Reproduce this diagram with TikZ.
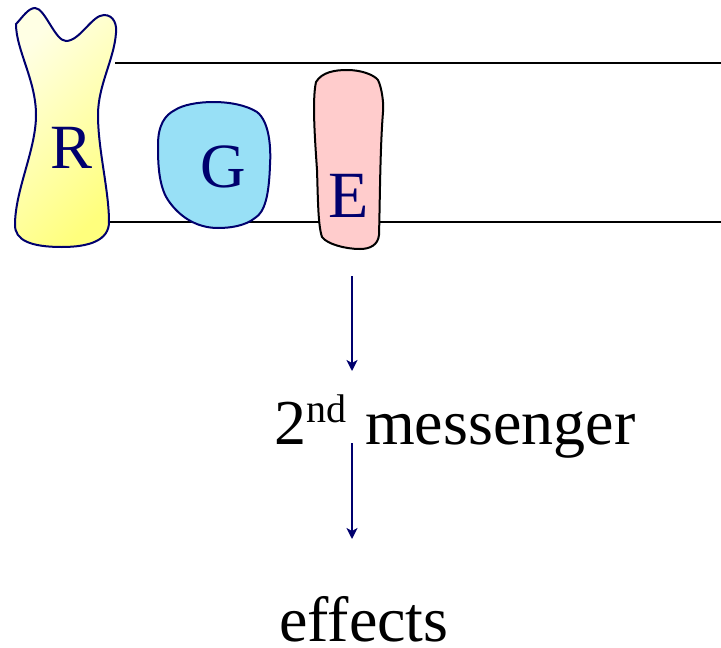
\documentclass[tikz,border=0pt]{standalone}
\usepackage{fontspec}
\setmainfont{Liberation Serif}[Ligatures=NoCommon]
\usetikzlibrary{arrows.meta}
\definecolor{navy}{RGB}{0,0,110}
\definecolor{gblue}{RGB}{152,224,246}
\definecolor{epink}{RGB}{255,204,204}
\tikzset{
  membrane/.style={draw=black,line width=1.8pt},
  prot/.style={line width=2pt},
  biglabel/.style={inner sep=0pt,text=navy,font=\fontsize{63}{70}\selectfont},
  plaintext/.style={inner sep=0pt,text=black,font=\fontsize{64}{72}\selectfont},
  flow/.style={draw=navy,line width=1.8pt,-{Stealth[length=11pt,width=11pt,inset=3pt]}}
}
\begin{document}
\begin{tikzpicture}[x=1pt,y=-1pt]
\useasboundingbox (0,0) rectangle (721,648);
% membrane lines
\coordinate (u1) at (115,63); \coordinate (u2) at (721,63);
\coordinate (l1) at (108,222); \coordinate (l2) at (721,222);
\draw[membrane] (u1) -- (u2);
\draw[membrane] (l1) -- (l2);
% R
\path[prot,draw=navy,top color={rgb,255:red,255;green,255;blue,228},bottom color={rgb,255:red,255;green,255;blue,125},shading angle=45]
 (16,24) .. controls (22,18) and (28,8) .. (35,8)
 .. controls (45,8) and (55,41) .. (66,41)
 .. controls (80,41) and (92,15) .. (104,15)
 .. controls (114,15) and (117,25) .. (116,33)
 .. controls (114,60) and (98,85) .. (98,115)
 .. controls (98,150) and (109,190) .. (109,222)
 .. controls (109,240) and (90,247) .. (62,247)
 .. controls (30,247) and (15,240) .. (15,225)
 .. controls (15,190) and (36,150) .. (36,115)
 .. controls (36,80) and (16,50) .. (16,24) -- cycle;
% G
\path[prot,draw=navy,fill=gblue]
 (175,110) .. controls (190,100) and (235,98) .. (257,112)
 .. controls (270,122) and (271,150) .. (270,165)
 .. controls (269,195) and (265,212) .. (255,218)
 .. controls (245,226) and (230,228) .. (218,228)
 .. controls (195,228) and (178,215) .. (168,200)
 .. controls (158,185) and (158,160) .. (158,145)
 .. controls (158,125) and (165,115) .. (175,110) -- cycle;
% E
\path[prot,draw=black,fill=epink]
 (316,82) .. controls (322,72) and (335,70) .. (347,70)
 .. controls (362,70) and (374,75) .. (378,80)
 .. controls (382,88) and (384,105) .. (383,112)
 .. controls (380,150) and (380,200) .. (379,235)
 .. controls (378,245) and (370,249) .. (360,249)
 .. controls (345,249) and (327,244) .. (322,237)
 .. controls (318,225) and (318,200) .. (317,170)
 .. controls (315,140) and (312,100) .. (316,82) -- cycle;
\node[biglabel,anchor=base] (R) at (72,168) {R};
\node[biglabel,anchor=base] (G) at (223,187) {G};
\node[biglabel,anchor=base,font=\fontsize{66}{72}\selectfont] (E) at (349,217) {E};
\node[plaintext,anchor=base west] (msg) at (274,444) {2\raisebox{22pt}{\fontsize{40}{42}\selectfont nd}\hspace{3pt} messenger};
\node[plaintext,anchor=base west] (eff) at (279,641) {effects};
\coordinate (a1s) at (352,276); \coordinate (a1e) at (352,371);
\coordinate (a2s) at (352,443); \coordinate (a2e) at (352,539);
\draw[flow] (a1s) -- (a1e);
\draw[flow] (a2s) -- (a2e);
\end{tikzpicture}
\end{document}
